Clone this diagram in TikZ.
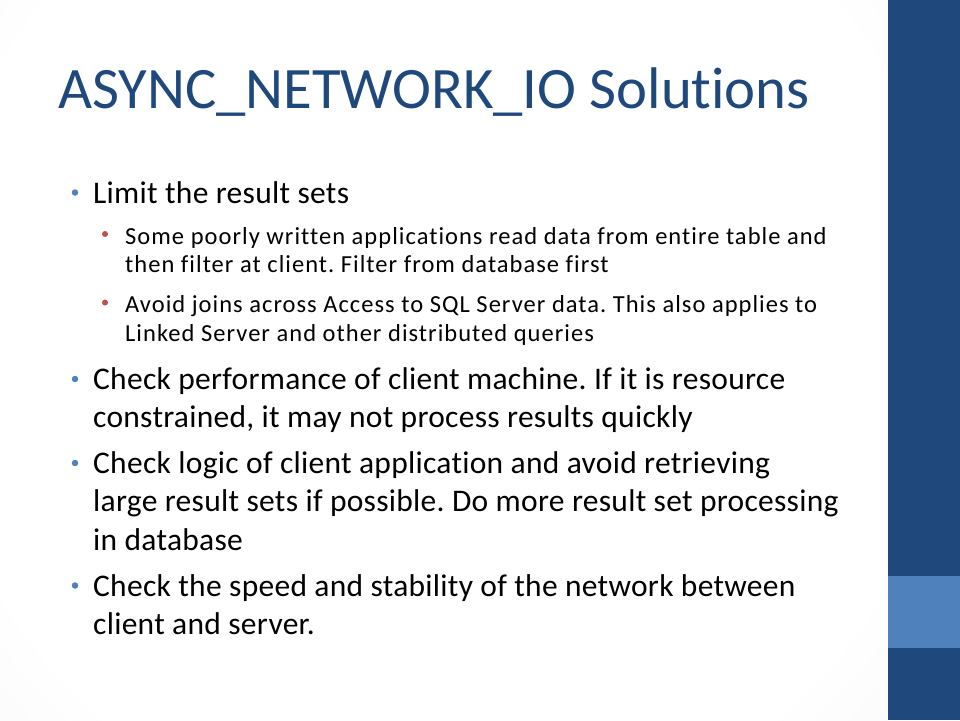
\documentclass[tikz,border=0pt]{standalone}
\usepackage{fontspec}
\setmainfont[Ligatures=NoCommon]{Carlito}
\newfontfamily\levelonefont[Ligatures=NoCommon,LetterSpace=0.9]{Carlito}
\newfontfamily\leveltwofont[Ligatures=NoCommon,LetterSpace=4.2]{Carlito}
\frenchspacing
\definecolor{titleblue}{HTML}{1F497D}
\definecolor{darkbar}{HTML}{1F497D}
\definecolor{lightbar}{HTML}{4F81BD}
\definecolor{bulblue}{HTML}{4F81BD}
\definecolor{bulred}{HTML}{C0504D}
\definecolor{bggray}{HTML}{DADADA}
\pgfdeclareradialshading{slidebg}{\pgfpoint{0bp}{0bp}}{color(0bp)=(white); color(18bp)=(white); color(50bp)=(bggray)}
\tikzset{
  lone/.style={anchor=base west, inner sep=0pt, font=\levelonefont\fontsize{31.5}{38}\selectfont\frenchspacing, text=black},
  ltwo/.style={anchor=base west, inner sep=0pt, font=\leveltwofont\fontsize{24.5}{28}\selectfont\frenchspacing, text=black},
  bone/.style={circle, fill=bulblue, inner sep=0pt, minimum size=6.5pt},
  btwo/.style={circle, fill=bulred, inner sep=0pt, minimum size=6pt},
}
\begin{document}
\begin{tikzpicture}[x=1pt,y=-1pt]
\useasboundingbox (0,0) rectangle (960,720);
\begin{scope}
\clip (0,0) rectangle (888,720);
\shade[shading=slidebg] (440,330) circle (700pt);
\end{scope}
\fill[darkbar] (888,0) rectangle (960,720);
\fill[lightbar] (888,576) rectangle (960,648);
\node[anchor=base west, inner sep=0pt, text=titleblue, font=\fontsize{58.7}{70}\selectfont] (title) at (58,108) {ASYNC\_NETWORK\_IO Solutions};
% level 1: Limit
\node[bone] (b1) at (75,192.5) {};
\node[lone] (t1) at (93,203) {Limit the result sets};
\node[btwo] (b1a) at (105,234) {};
\node[ltwo] (t1a1) at (125,244) {Some poorly written applications read data from entire table and};
\node[ltwo] (t1a2) at (125,272.5) {then filter at client. Filter from database first};
\node[btwo] (b1b) at (105,302.5) {};
\node[ltwo] (t1b1) at (125,312.5) {Avoid joins across Access to SQL Server data. This also applies to};
\node[ltwo] (t1b2) at (125,341) {Linked Server and other distributed queries};
\node[bone] (b2) at (75,379) {};
\node[lone] (t21) at (93,389) {Check performance of client machine. If it is resource};
\node[lone] (t22) at (93,427.5) {constrained, it may not process results quickly};
\node[bone] (b3) at (75,463) {};
\node[lone] (t31) at (93,473) {Check logic of client application and avoid retrieving};
\node[lone] (t32) at (93,511.5) {large result sets if possible. Do more result set processing};
\node[lone] (t33) at (93,550) {in database};
\node[bone] (b4) at (75,585.5) {};
\node[lone] (t41) at (93,596) {Check the speed and stability of the network between};
\node[lone] (t42) at (93,634) {client and server.};
\end{tikzpicture}
\end{document}
